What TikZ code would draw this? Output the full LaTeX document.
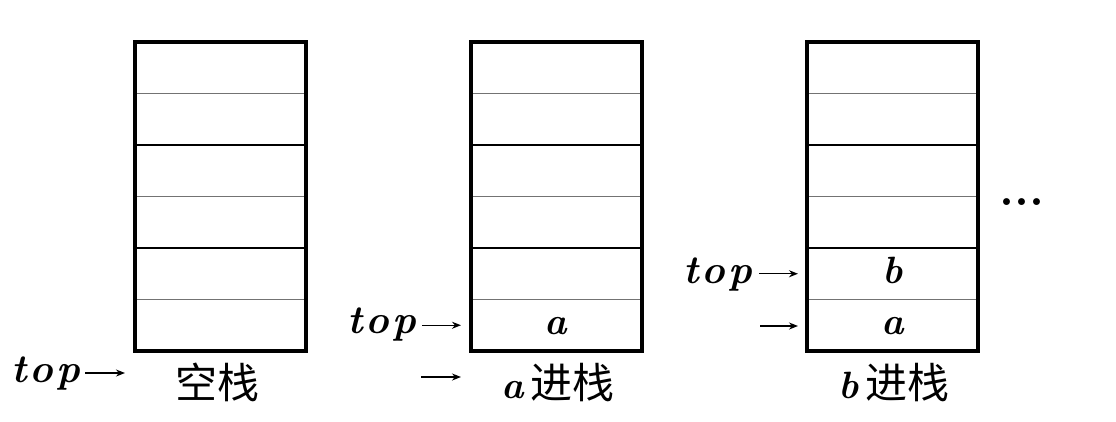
\documentclass[tikz,border=0pt]{standalone}
\usepackage{fontspec}
\newfontfamily\cjk{Noto Sans CJK SC}
\usetikzlibrary{arrows.meta}

\tikzset{
  cell/.style={minimum width=171pt, minimum height=51.5pt, inner sep=0pt},
  frame/.style={line width=4pt},
  thinrule/.style={line width=1.3pt, black!55},
  thickrule/.style={line width=2pt},
  toplbl/.style={inner sep=0pt, font=\fontsize{40}{40}\selectfont\bfseries\itshape},
  celltxt/.style={inner sep=0pt, font=\fontsize{38}{38}\selectfont\bfseries\itshape},
  caption/.style={inner sep=0pt, font=\fontsize{42}{42}\selectfont\cjk},
  ptr/.style={line width=1.4pt, -{Stealth[length=9pt,width=7pt]}},
}
\newcommand{\toptext}{t\kern3pt o\kern3pt p}
\newcommand{\letr}[1]{{\fontsize{38}{38}\fontspec{Latin Modern Roman}\bfseries\itshape #1}}

\begin{document}
\begin{tikzpicture}[x=1pt,y=1pt,yscale=-1]
\useasboundingbox (0,0) rectangle (1116,421);

% three stacks, six cells each, bottom row r1
\foreach \n/\x in {sa/135, sb/471, sc/807} {
  \foreach \i in {1,...,6}
    \node[cell] (\n-r\i) at (\x+85.5, 351-51.5*\i+25.75) {};
  % rules between cells, thin and thick in turn
  \foreach \i/\s in {1/thinrule, 2/thickrule, 3/thinrule, 4/thickrule, 5/thinrule}
    \draw[\s] (\n-r\i.north west) -- (\n-r\i.north east);
  \draw[frame] (\n-r1.south west) rectangle (\n-r6.north east);
}

% Text Node
\node[celltxt, anchor=base] (ina) at (556,334) {a};
\node[celltxt, anchor=base] (inb) at (893,283) {b};
\node[celltxt, anchor=base] (ina2) at (893,334) {a};

% captions
\node[caption, anchor=base] (capa) at (217,398) {空栈};
\node[caption, anchor=base] (capb) at (558,398) {\letr{a}\,进栈};
\node[caption, anchor=base] (capc) at (894,398) {\letr{b}\,进栈};

% top pointers
\node[toplbl, anchor=base east] (topa) at (80,382) {\toptext};
\coordinate (pa) at (125,373);
\draw[ptr] (pa -| topa.east) ++(5,0) -- (pa);

\node[toplbl, anchor=base east] (topb) at (416,333) {\toptext};
\draw[ptr] (sb-r1.west -| topb.east) ++(6,0) -- (sb-r1.west -| 461,0);
\coordinate (qb) at (421,377);
\coordinate (qbe) at (461,377);
\draw[ptr] (qb) -- (qbe);

\node[toplbl, anchor=base east] (topc) at (752,283) {\toptext};
\draw[ptr] (sc-r2.west -| topc.east) ++(7,0) -- (sc-r2.west -| 798,0);
\coordinate (qc) at (760,326);
\draw[ptr] (qc) -- (qc -| 798,0);

% more to come
\node[inner sep=0pt, anchor=base, font=\fontsize{48}{48}\selectfont\bfseries] (more) at (1022,205) {...};
\end{tikzpicture}
\end{document}
